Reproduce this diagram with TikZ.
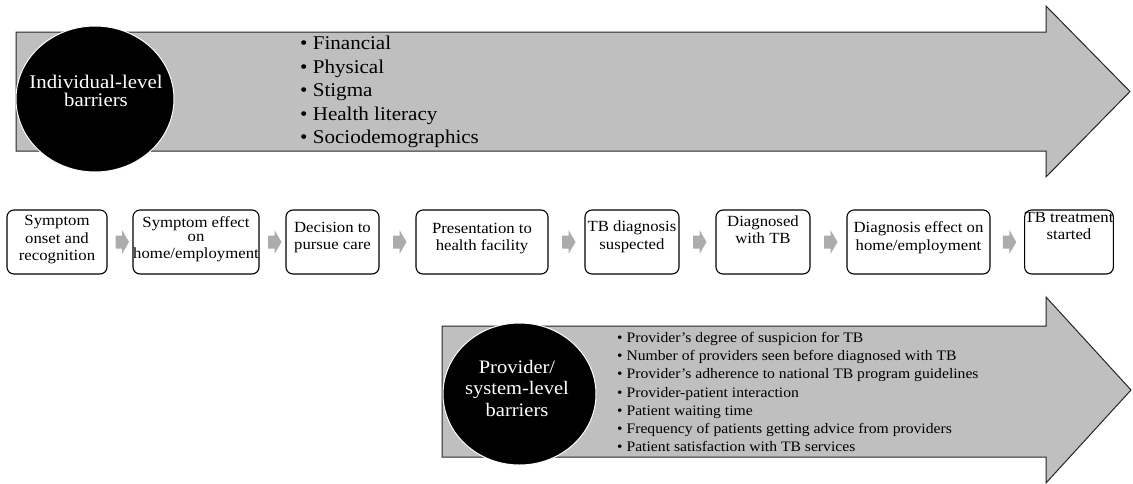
\documentclass[tikz,border=0pt]{standalone}
\usepackage{fontspec}
\setmainfont{Liberation Serif}[FakeStretch=1.08]
\usetikzlibrary{calc}

\definecolor{bandfill}{RGB}{191,191,191}
\definecolor{stepfill}{RGB}{172,172,172}

\tikzset{
  band/.style={fill=bandfill,draw=black!85,line width=1pt},
  disc/.style={fill=black,draw=white,line width=1pt},
  disctext/.style={text=white,align=center,inner sep=0pt},
  barlist/.style={anchor=north west,align=left,inner sep=0pt},
  stage/.style={draw=black,line width=1.1pt,rounded corners=7pt,minimum height=64pt,align=center,inner sep=0pt,font=\fontsize{15.5}{17.5}\selectfont}
}

\begin{document}
\begin{tikzpicture}[x=1pt,y=-1pt]
\useasboundingbox (0,0) rectangle (1133,483);

% individual-level band
\draw[band] (16,32) -- (1046,32) -- (1046,6) -- (1130,91.5) -- (1046,177) -- (1046,151) -- (16,151) -- cycle;
\draw[disc] (95,99) ellipse [x radius=79, y radius=73];
\node[disctext,font=\fontsize{19.3}{18}\selectfont] (indiv) at (96,91) {Individual-level\\barriers};
\node[barlist,font=\fontsize{19.5}{23.5}\selectfont] (indivlist) at (300,36)
  {• Financial\\• Physical\\• Stigma\\• Health literacy\\• Sociodemographics};

% stages of care
\foreach \x/\w/\d/\txt [count=\i] in {
    57/100/8pt/{Symptom\\onset and\\recognition},
    196/126/8pt/{Symptom effect\\[-4pt]on\\home/employment},
    332.5/93/12pt/{Decision to\\pursue care},
    482/132/10pt/{Presentation to\\health facility},
    632/94/14pt/{TB diagnosis\\suspected},
    763/94/25pt/{Diagnosed\\with TB},
    918.5/143/12pt/{Diagnosis effect on\\home/employment},
    1069/82/32pt/{TB treatment\\started}}
  \node[stage,minimum width=\w,text depth=\d] (s\i) at (\x,242) {\txt};

% small arrows between stages
\foreach \i [evaluate=\i as \j using int(\i+1)] in {1,...,7}
  \fill[stepfill] ($(s\i.east)!0.5!(s\j.west)$) ++(-4.5,-6.5) -- ++(6.5,0) -- ++(0,-5.5) -- ++(7,12)
    -- ++(-7,12) -- ++(0,-5.5) -- ++(-6.5,0) -- cycle;

% provider/system-level band
\draw[band] (442,326) -- (1046,326) -- (1046,297) -- (1131,390) -- (1046,483) -- (1046,457) -- (442,457) -- cycle;
\draw[disc] (519.5,394) ellipse [x radius=76.5, y radius=71];
\node[disctext,font=\fontsize{19}{21.5}\selectfont] (prov) at (517,388) {Provider/\\system-level\\barriers};
\node[barlist,font=\fontsize{14.5}{18.2}\selectfont] (provlist) at (617,332)
  {• Provider’s degree of suspicion for TB\\
   • Number of providers seen before diagnosed with TB\\
   • Provider’s adherence to national TB program guidelines\\
   • Provider-patient interaction\\
   • Patient waiting time\\
   • Frequency of patients getting advice from providers\\
   • Patient satisfaction with TB services};
\end{tikzpicture}
\end{document}
